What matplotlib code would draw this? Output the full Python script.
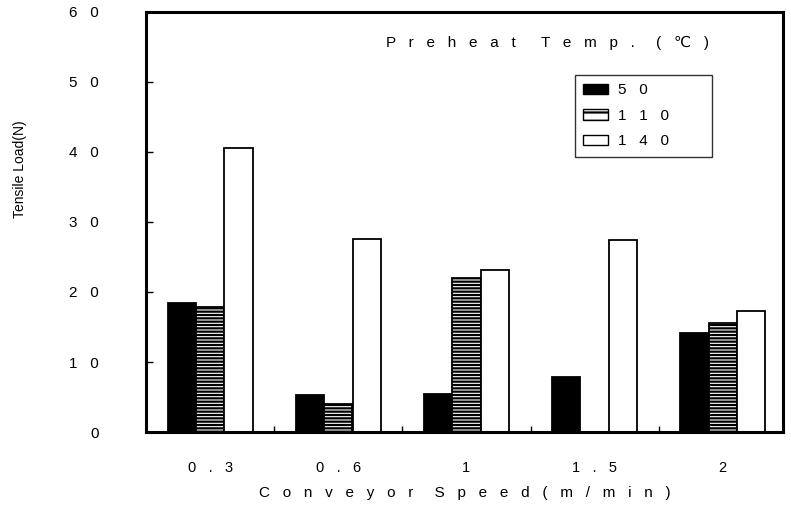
import numpy as np
import matplotlib
matplotlib.use('Agg')
import matplotlib.pyplot as plt
from matplotlib.patches import Patch

plt.rcParams['font.family'] = ['Liberation Sans', 'DejaVu Sans']
plt.rcParams['hatch.linewidth'] = 1.6

# data
speeds = ['0   .   3', '0   .   6', '1', '1   .   5', '2']
temps = ['5   0', '1   1   0', '1   4   0        ']
yticklabels = ['0', '1   0', '2   0', '3   0', '4   0', '5   0', '6   0']
load_50 = [18.4, 5.3, 5.4, 7.8, 14.2]
load_110 = [17.9, 4.0, 22.0, 0.0, 15.5]
load_140 = [40.6, 27.5, 23.1, 27.4, 17.3]

fig = plt.figure(figsize=(7.91, 5.08), dpi=100)
ax = fig.add_axes([0.1846, 0.1496, 0.8053, 0.8268])

x = np.arange(len(speeds))
w = 0.22
styles = [dict(color='black', edgecolor='black'),
          dict(color='white', edgecolor='black', hatch='-----'),
          dict(color='white', edgecolor='black')]
for i, vals in enumerate([load_50, load_110, load_140]):
    ax.bar(x + (i - 1) * 0.222, vals, w, linewidth=1.3, **styles[i])

ax.set_xlim(-0.5, 4.47)
ax.set_ylim(0, 60)

ax.set_yticks(np.arange(0, 61, 10))
ax.set_yticklabels(yticklabels)
ax.tick_params(axis='y', direction='in', length=5, width=1, pad=34, labelsize=11)
ax.set_xticks(x)
ax.set_xticklabels(speeds)
ax.tick_params(axis='x', length=0, pad=21, labelsize=10.5)
ax.set_xticks(x[:-1] + 0.5, minor=True)
ax.tick_params(axis='x', which='minor', direction='in', length=4, width=1)

for s in ax.spines.values():
    s.set_linewidth(2.2)

ax.set_xlabel('C   o   n   v   e   y   o   r     S   p   e   e   d   (   m   /   m   i   n   )',
              fontsize=11, labelpad=8)
fig.text(20 / 791, 0.667, 'Tensile Load(N)', rotation=90, ha='center', va='center',
         fontsize=10)

ax.text(0.376, 0.926, 'P   r   e   h   e   a   t      T   e   m   p   .     (   ℃   )',
        transform=ax.transAxes, ha='left', va='center', fontsize=11)

handles = [Patch(facecolor='black', edgecolor='black'),
           Patch(facecolor='white', edgecolor='black', hatch='--'),
           Patch(facecolor='white', edgecolor='black')]
leg = ax.legend(handles, temps, loc='upper left', bbox_to_anchor=(0.673, 0.85),
                fontsize=11, frameon=True, fancybox=False, handlelength=1.6,
                handleheight=0.7, handletextpad=0.7, labelspacing=0.75,
                borderpad=0.55, borderaxespad=0)
leg.get_frame().set_edgecolor('black')
leg.get_frame().set_linewidth(1)

fig.savefig('out.png', dpi=100)
